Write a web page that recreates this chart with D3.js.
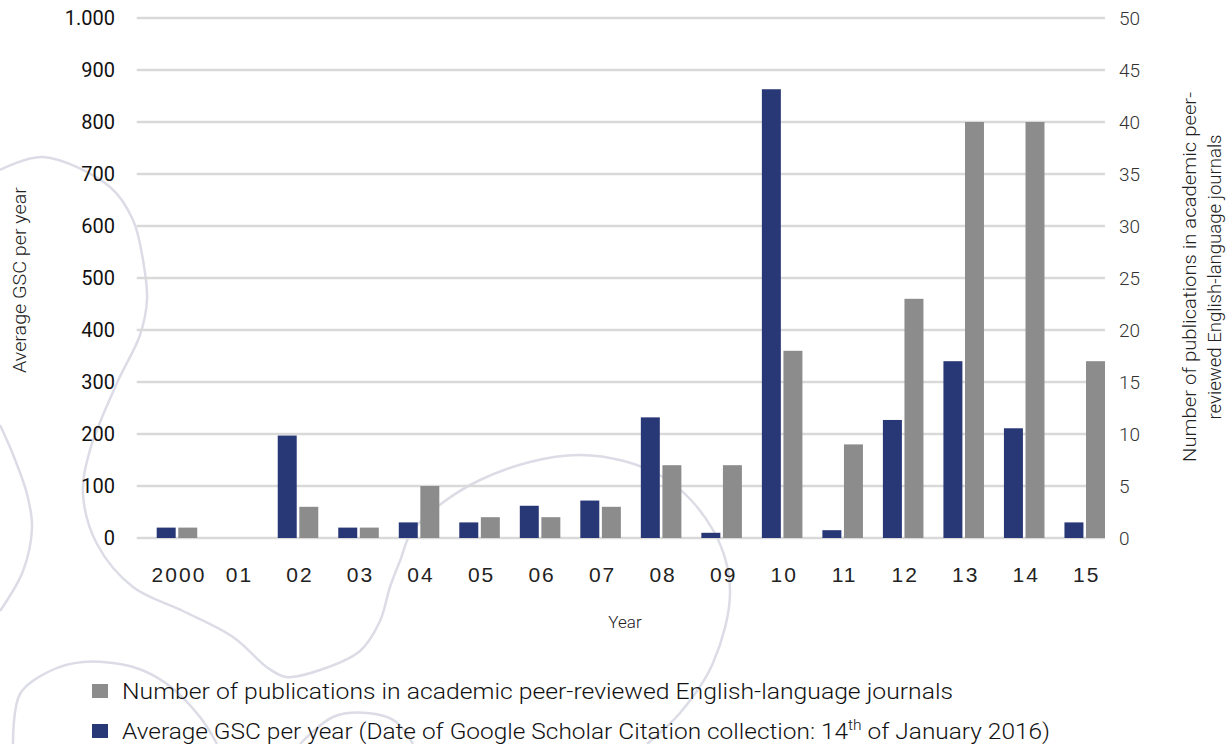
<!DOCTYPE html>
<html>
<head>
<meta charset="utf-8">
<script src="https://cdn.jsdelivr.net/npm/d3@7"></script>
<style>
  body { margin: 0; background: #fff; }
  svg { display: block; font-family: Roboto, "Open Sans", sans-serif; }
</style>
</head>
<body>
<svg id="chart" width="1231" height="744"></svg>
<script>
const years = ["2000", "01", "02", "03", "04", "05", "06", "07", "08", "09", "10", "11", "12", "13", "14", "15"]
const gsc = [20, 0, 197, 20, 30, 30, 62, 72, 232, 10, 863, 15, 227, 340, 211, 30]
const pubs = [1, 0, 3, 1, 5, 2, 2, 3, 7, 7, 18, 9, 23, 40, 40, 17]
const leftTicks = [0, 100, 200, 300, 400, 500, 600, 700, 800, 900, 1000]
const rightTicks = [0, 5, 10, 15, 20, 25, 30, 35, 40, 45, 50]

// background decoration (light outline blobs)
const decor = [
  [[0,170],[43,157],[110,187],[133,220],[143,260],[147,300],[140,335],[117,383],[90,450],[83,494],[97,544],[133,587],[183,611],[233,637],[268,668],[286,677],[317,671],[360,651],[380,621],[390,587],[400,561],[413,530],[480,480],[580,455],[663,477],[713,530],[730,590],[713,663],[680,713],[647,744]],
  [[0,425],[12,452],[27,494],[32,527],[23,571],[0,611]],
  [[13,744],[20,694],[50,671],[83,662],[133,667],[167,684],[200,717],[217,744]],
  [[300,744],[333,717],[367,713],[395,721],[413,744]]
]

const svg = d3.select("#chart")
const plot = { left: 136.7, right: 1105, top: 18, bottom: 538 }

svg.append("g").selectAll("path")
  .data(decor)
  .enter().append("path")
    .attr("d", d3.line().curve(d3.curveCatmullRom))
    .attr("fill", "none")
    .attr("stroke", "#dcdce7")
    .attr("stroke-width", 2.5)

const x = d3.scaleBand().domain(years).range([156.7, plot.right]).paddingInner(0.33).paddingOuter(0)
const x1 = d3.scaleBand().domain(["gsc", "pubs"]).range([0, x.bandwidth()]).paddingInner(0.12)
const yL = d3.scaleLinear().domain([0, 1000]).range([plot.bottom, plot.top])
const yR = d3.scaleLinear().domain([0, 50]).range([plot.bottom, plot.top])

// gridlines
svg.append("g").selectAll("line")
  .data(leftTicks)
  .enter().append("line")
    .attr("x1", plot.left).attr("x2", plot.right)
    .attr("y1", d => yL(d)).attr("y2", d => yL(d))
    .attr("stroke", "#d9d9d9")
    .attr("stroke-width", 2.5)

// left axis labels
const fmt = d => d === 1000 ? "1.000" : String(d)
const gl = svg.append("g")
  .attr("transform", "translate(115,0)")
  .call(d3.axisLeft(yL).tickValues(leftTicks).tickFormat(fmt).tickSize(0).tickPadding(0))
gl.select(".domain").remove()
gl.selectAll("text").attr("font-size", 20).attr("fill", "#111").attr("font-weight", 400).attr("font-family", "Roboto")

// right axis labels
const gr = svg.append("g")
  .attr("transform", "translate(1119,0)")
  .call(d3.axisRight(yR).tickValues(rightTicks).tickSize(0).tickPadding(0))
gr.select(".domain").remove()
gr.selectAll("text").attr("font-size", 19).attr("fill", "#333").attr("font-weight", 300).attr("font-family", "Roboto")

// x axis labels
const gx = svg.append("g")
  .attr("transform", "translate(0," + 567 + ")")
  .call(d3.axisBottom(x).tickSize(0).tickPadding(0))
gx.select(".domain").remove()
gx.selectAll("text").attr("font-size", 21).attr("fill", "#222").attr("font-weight", 300)
  .attr("letter-spacing", "2px").attr("dx", "2px")

// bars
const groups = svg.append("g").selectAll("g")
  .data(years)
  .enter().append("g")
    .attr("transform", d => "translate(" + x(d) + ",0)")

groups.append("rect")
  .attr("x", x1("gsc"))
  .attr("y", (d, i) => yL(gsc[i]))
  .attr("width", x1.bandwidth())
  .attr("height", (d, i) => yL(0) - yL(gsc[i]))
  .attr("fill", "#283776")

groups.append("rect")
  .attr("x", x1("pubs"))
  .attr("y", (d, i) => yR(pubs[i]))
  .attr("width", x1.bandwidth())
  .attr("height", (d, i) => yR(0) - yR(pubs[i]))
  .attr("fill", "#8c8c8c")

// axis titles
svg.append("text")
  .attr("transform", "translate(26,280) rotate(-90)")
  .attr("text-anchor", "middle")
  .attr("font-size", 18).attr("font-weight", 300).attr("fill", "#222")
  .attr("textLength", 186).attr("lengthAdjust", "spacingAndGlyphs")
  .text("Average GSC per year")

const rt = svg.append("g").attr("transform", "translate(1196,277) rotate(-90)")
rt.append("text")
  .attr("text-anchor", "middle")
  .attr("font-size", 18).attr("font-weight", 300).attr("fill", "#222")
  .attr("textLength", 370).attr("lengthAdjust", "spacingAndGlyphs")
  .text("Number of publications in academic peer-")
rt.append("text")
  .attr("y", 25)
  .attr("text-anchor", "middle")
  .attr("font-size", 18).attr("font-weight", 300).attr("fill", "#222")
  .attr("textLength", 285).attr("lengthAdjust", "spacingAndGlyphs")
  .text("reviewed English-language journals")

svg.append("text")
  .attr("x", 625).attr("y", 628)
  .attr("text-anchor", "middle")
  .attr("font-size", 17).attr("font-weight", 300).attr("fill", "#222")
  .text("Year")

// legend
const legend = svg.append("g")
legend.append("rect").attr("x", 92).attr("y", 684).attr("width", 16).attr("height", 14).attr("fill", "#8c8c8c")
legend.append("rect").attr("x", 92).attr("y", 724).attr("width", 16).attr("height", 14).attr("fill", "#283776")

legend.append("text")
  .attr("x", 122).attr("y", 699)
  .attr("font-size", 22).attr("font-weight", 300).attr("fill", "#111")
  .attr("textLength", 831).attr("lengthAdjust", "spacingAndGlyphs")
  .text("Number of publications  in academic peer-reviewed English-language  journals")

const l2 = legend.append("text")
  .attr("x", 122).attr("y", 739)
  .attr("font-size", 22).attr("font-weight", 300).attr("fill", "#111")
  .attr("textLength", 928).attr("lengthAdjust", "spacingAndGlyphs")
l2.append("tspan").text("Average GSC per year (Date of Google Scholar Citation collection: 14")
l2.append("tspan").attr("font-size", 14).attr("dy", -9).text("th")
l2.append("tspan").attr("dy", 9).text(" of January  2016)")
</script>
</body>
</html>
